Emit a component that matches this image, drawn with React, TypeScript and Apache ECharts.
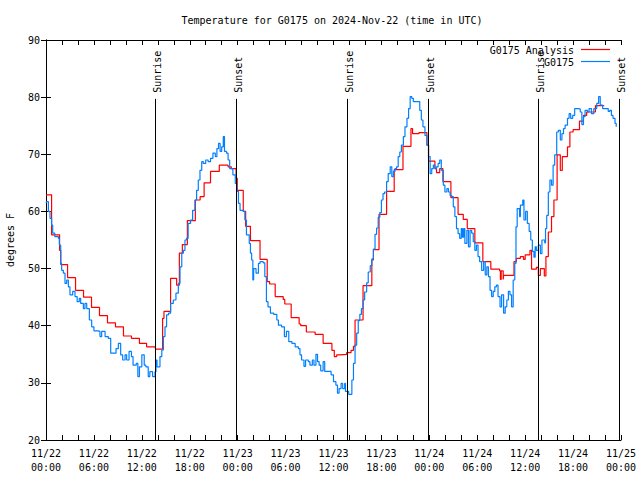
import React, { useEffect, useRef } from "react";
import * as echarts from "echarts";

// hours after 2024-11-22 00:00 UTC, temperature (°F)
const analysisSteps: [number, number][] = [
  [0, 62.9], [0.7, 55.9], [1.7, 53.2], [1.85, 50.7], [2.7, 48.4], [3.7, 46.2], [4.7, 45.0],
  [5.7, 43.2], [6.7, 41.75], [7.7, 40.5], [8.7, 39.8], [9.7, 38.2], [10.7, 37.8], [11.7, 36.9],
  [12.6, 36.3], [13.7, 35.9], [14.6, 41.3], [14.77, 42.5], [15.6, 48.3], [16.36, 47.1], [16.7, 52.7],
  [17.07, 54.2], [17.7, 58.4], [18.7, 62.0], [19.3, 62.6], [19.8, 65.0], [20.6, 67.0], [21.7, 68.1],
  [22.8, 67.8], [23.2, 67.5], [23.8, 65.8], [23.95, 63.7], [24.7, 60.0], [25.0, 57.4], [25.6, 54.9],
  [26.8, 51.6], [27.7, 47.7], [28.0, 47.3], [28.7, 45.1], [29.7, 44.6], [29.9, 43.8], [30.7, 41.4],
  [31.7, 40.3], [31.9, 40.0], [32.6, 38.9], [33.7, 38.5], [34.7, 36.9], [35.8, 35.7], [36.1, 34.6],
  [36.4, 34.9], [36.8, 35.0], [37.65, 35.3], [38.2, 35.7], [38.5, 36.4], [38.7, 41.0], [39.7, 47.0],
  [40.8, 51.5], [41.0, 53.3], [41.7, 59.5], [42.65, 63.5], [43.6, 67.3], [44.7, 71.4], [45.7, 74.5],
  [45.9, 73.6], [46.7, 73.8], [47.7, 71.6], [47.9, 68.8], [48.7, 67.5], [48.9, 66.8], [49.3, 67.5],
  [49.7, 65.2], [50.7, 62.4], [51.6, 59.5], [52.25, 58.6], [52.75, 57.0], [53.7, 54.5], [54.7, 51.2],
  [55.7, 49.9], [56.8, 49.6], [56.9, 48.1], [57.0, 49.6], [57.25, 48.1], [57.3, 48.8], [58.6, 51.2],
  [58.9, 51.8], [59.4, 52.1], [59.8, 51.6], [60.0, 52.4], [60.6, 53.2], [60.8, 49.9], [61.4, 50.2],
  [61.65, 48.8], [61.9, 50.0], [62.4, 48.7], [62.6, 52.1], [62.9, 56.4], [63.3, 59.1], [63.6, 62.0],
  [64.0, 69.9], [64.4, 67.2], [64.65, 69.6], [65.3, 71.3], [65.6, 73.9], [66.0, 74.3], [66.8, 75.8],
  [67.3, 76.8], [67.7, 77.4], [68.8, 78.5], [69.9, 78.5],
];

const observed: [number, number][] = [
  [0, 61.5], [0.08, 61.7], [0.3, 60.0], [0.5, 58.8], [0.7, 57.6], [0.84, 56.2], [1.1, 55.6],
  [1.55, 55.3], [1.67, 54.1], [1.84, 50.9], [1.96, 49.7], [2.17, 49.2], [2.38, 47.4], [2.59, 48.0],
  [2.8, 46.8], [3.0, 45.4], [3.34, 46.0], [3.63, 45.1], [3.9, 44.2], [4.17, 44.8], [4.34, 43.9],
  [4.68, 43.0], [4.88, 43.9], [5.1, 43.0], [5.43, 41.0], [5.72, 39.8], [6.0, 39.1], [6.55, 39.0],
  [6.76, 38.1], [6.97, 39.0], [7.4, 38.1], [7.8, 37.8], [8.1, 35.2], [8.43, 35.2], [8.77, 36.0],
  [9.06, 36.9], [9.35, 34.9], [9.6, 34.0], [9.9, 34.9], [10.1, 34.0], [10.4, 35.5], [10.7, 34.6],
  [10.9, 33.1], [11.3, 33.4], [11.5, 31.1], [11.7, 32.8], [12.0, 34.9], [12.3, 33.1], [12.5, 32.8],
  [12.8, 31.1], [13.0, 31.95], [13.35, 31.1], [13.65, 31.95], [13.77, 34.0], [13.9, 32.8],
  [14.27, 34.6], [14.5, 35.75], [14.7, 38.1], [14.9, 39.8], [15.1, 41.9], [15.35, 42.2],
  [15.6, 43.9], [15.94, 44.5], [16.27, 45.7], [16.57, 47.4], [16.78, 50.3], [17.0, 52.7],
  [17.2, 53.2], [17.4, 55.0], [17.6, 55.3], [17.8, 57.9], [18.1, 58.5], [18.36, 60.2],
  [18.65, 62.0], [18.86, 63.7], [19.07, 65.5], [19.28, 67.2], [19.5, 68.7], [19.7, 68.4],
  [20.0, 69.0], [20.3, 68.7], [20.6, 69.3], [20.9, 70.2], [21.2, 69.6], [21.4, 71.0], [21.6, 71.9],
  [21.8, 70.5], [22.0, 71.3], [22.2, 73.1], [22.35, 70.5], [22.6, 70.2], [22.8, 69.0], [23.0, 67.5],
  [23.4, 66.4], [23.7, 64.9], [23.9, 63.5], [24.1, 61.4], [24.3, 60.2], [24.7, 60.0], [24.9, 58.5],
  [25.1, 55.9], [25.45, 54.4], [25.6, 52.7], [25.75, 51.5], [25.9, 48.0], [26.0, 50.0], [26.3, 49.2],
  [26.6, 50.9], [26.8, 51.2], [27.2, 51.0], [27.4, 48.6], [27.6, 44.2], [27.8, 43.3], [28.1, 42.2],
  [28.5, 42.0], [28.9, 41.0], [29.1, 40.1], [29.5, 39.8], [29.85, 38.1], [30.1, 39.0], [30.4, 37.2],
  [30.8, 36.9], [31.2, 36.3], [31.6, 36.0], [31.8, 34.9], [32.0, 34.0], [32.3, 32.9], [32.5, 34.0],
  [32.85, 33.7], [33.05, 33.1], [33.35, 34.0], [33.55, 33.1], [33.8, 35.0], [34.0, 33.7],
  [34.2, 33.1], [34.4, 32.1], [34.7, 33.7], [34.9, 32.0], [35.35, 32.0], [35.7, 31.4], [36.0, 30.2],
  [36.3, 29.6], [36.5, 28.2], [36.7, 29.0], [36.95, 29.9], [37.15, 29.0], [37.4, 29.9], [37.5, 28.5],
  [37.9, 28.0], [38.15, 28.0], [38.3, 30.5], [38.5, 33.4], [38.7, 36.6], [38.9, 38.7], [39.1, 40.9],
  [39.3, 42.0], [39.5, 43.0], [39.7, 44.5], [39.9, 45.9], [40.15, 47.5], [40.35, 49.4], [40.6, 50.5],
  [40.8, 51.7], [41.0, 53.4], [41.2, 56.0], [41.4, 57.1], [41.6, 59.0], [41.8, 59.8], [42.0, 62.0],
  [42.2, 63.1], [42.4, 63.4], [42.65, 65.2], [42.85, 66.6], [43.1, 67.8], [43.3, 66.1], [43.5, 67.0],
  [43.7, 67.5], [43.9, 67.8], [44.1, 69.6], [44.3, 70.4], [44.5, 71.6], [44.75, 73.1], [44.95, 74.8],
  [45.2, 76.3], [45.4, 78.0], [45.6, 80.1], [45.8, 79.8], [46.0, 79.2], [46.6, 79.2], [46.8, 77.7],
  [47.0, 76.0], [47.2, 74.8], [47.45, 73.3], [47.7, 71.6], [47.9, 69.6], [48.1, 66.6], [48.3, 67.5],
  [48.5, 68.1], [48.7, 67.5], [48.9, 67.8], [49.1, 68.4], [49.3, 69.0], [49.5, 67.2], [49.75, 64.6],
  [49.95, 63.4], [50.2, 64.0], [50.4, 63.4], [50.6, 62.8], [50.8, 62.6], [51.0, 60.8], [51.2, 59.1],
  [51.4, 57.0], [51.6, 56.1], [51.8, 55.3], [52.0, 57.0], [52.15, 55.5], [52.3, 57.0], [52.45, 54.4],
  [52.7, 56.7], [52.9, 53.8], [53.1, 56.7], [53.3, 56.2], [53.5, 54.7], [53.7, 53.2], [53.9, 54.1],
  [54.1, 52.1], [54.3, 51.2], [54.55, 49.7], [54.8, 51.2], [55.0, 48.9], [55.2, 50.3], [55.4, 48.6],
  [55.6, 46.2], [55.8, 45.1], [56.0, 46.0], [56.2, 46.8], [56.4, 47.1], [56.6, 45.1], [56.85, 43.3],
  [57.05, 45.4], [57.3, 42.2], [57.5, 43.3], [57.7, 44.5], [57.9, 46.0], [58.1, 45.4], [58.3, 43.3],
  [58.5, 48.0], [58.7, 50.9], [58.85, 57.3], [59.0, 60.5], [59.3, 59.1], [59.4, 61.1], [59.7, 62.0],
  [59.85, 58.5], [60.06, 60.0], [60.27, 57.9], [60.5, 56.5], [60.7, 55.0], [60.9, 53.0], [61.1, 52.0],
  [61.25, 53.8], [61.4, 53.2], [61.65, 54.1], [61.9, 52.6], [62.1, 55.0], [62.3, 55.0], [62.45, 54.5],
  [62.55, 57.0], [62.7, 59.3], [62.9, 63.4], [63.1, 65.5], [63.3, 64.6], [63.5, 68.1], [63.7, 69.9],
  [63.95, 73.9], [64.16, 74.2], [64.4, 72.5], [64.6, 73.6], [64.8, 74.5], [65.0, 75.1], [65.3, 76.3],
  [65.5, 77.1], [65.7, 76.3], [65.95, 76.8], [66.2, 78.0], [66.7, 77.9], [66.9, 77.4], [67.1, 75.2],
  [67.3, 76.6], [67.5, 77.7], [67.8, 77.4], [68.0, 78.0], [68.3, 77.1], [68.6, 78.0], [68.96, 78.9],
  [69.2, 80.1], [69.4, 78.6], [69.7, 78.0], [70.1, 78.0], [70.4, 77.5], [70.6, 77.7], [70.8, 76.8],
  [71.0, 76.3], [71.25, 75.4], [71.4, 74.8],
];

const sunHours = [13.69, 23.83, 37.73, 47.87, 61.65, 71.8];
const sunNames = ["Sunrise", "Sunset", "Sunrise", "Sunset", "Sunrise", "Sunset"];
const sunLineTop = 79.7;

const xTickLabels = [
  "11/22\n00:00", "11/22\n06:00", "11/22\n12:00", "11/22\n18:00",
  "11/23\n00:00", "11/23\n06:00", "11/23\n12:00", "11/23\n18:00",
  "11/24\n00:00", "11/24\n06:00", "11/24\n12:00", "11/24\n18:00",
  "11/25\n00:00",
];
const yMin = 20;
const yMax = 90;
const yStep = 10;

const FONT = "DejaVu Sans Mono";

export default function App() {
  const ref = useRef<HTMLDivElement>(null);
  useEffect(() => {
    if (!ref.current) return;
    const chart = echarts.init(ref.current, null, { renderer: "svg" });
    const axisBase = {
      type: "value" as const,
      min: 0,
      max: 72,
      interval: 2,
      axisLine: { show: true, lineStyle: { color: "#000", width: 1 } },
      axisTick: { show: true, inside: true, length: 5, lineStyle: { color: "#000" } },
      splitLine: { show: false },
    };
    const yBase = {
      type: "value" as const,
      min: yMin,
      max: yMax,
      interval: yStep,
      axisLine: { show: true, lineStyle: { color: "#000", width: 1 } },
      axisTick: { show: true, inside: true, length: 5, lineStyle: { color: "#000" } },
      splitLine: { show: false },
    };
    chart.setOption({
      animation: false,
      backgroundColor: "#fff",
      grid: { left: 46, right: 19, top: 40, bottom: 40, containLabel: false, outerBoundsMode: "none" },
      xAxis: [
        {
          ...axisBase,
          position: "bottom",
          axisLabel: {
            color: "#000",
            fontFamily: FONT,
            fontSize: 10,
            lineHeight: 14,
            margin: 6,
            showMinLabel: true,
            showMaxLabel: true,
            formatter: (v: number) => {
              const r = Math.round(v);
              return r % 6 === 0 ? xTickLabels[r / 6] : "";
            },
          },
        },
        { ...axisBase, position: "top", axisLabel: { show: false } },
      ],
      yAxis: [
        {
          ...yBase,
          position: "left",
          name: "degrees F",
          nameLocation: "middle",
          nameRotate: 90,
          nameGap: 31,
          nameTextStyle: { color: "#000", fontFamily: FONT, fontSize: 10 },
          axisLabel: { color: "#000", fontFamily: FONT, fontSize: 10, margin: 6 },
        },
        { ...yBase, position: "right", axisLabel: { show: false } },
      ],
      graphic: [
        {
          type: "text",
          x: 332,
          y: 20,
          style: {
            text: "Temperature for G0175 on 2024-Nov-22 (time in UTC)",
            fill: "#000",
            font: `10px "${FONT}"`,
            align: "center",
            verticalAlign: "middle",
          },
        },
        {
          type: "text",
          x: 574,
          y: 50,
          style: { text: "G0175 Analysis", fill: "#000", font: `10px "${FONT}"`, align: "right", verticalAlign: "middle" },
        },
        { type: "line", shape: { x1: 581, y1: 49.5, x2: 610, y2: 49.5 }, style: { stroke: "#ff0000", lineWidth: 1.2 } },
        {
          type: "text",
          x: 574,
          y: 62,
          style: { text: "G0175", fill: "#000", font: `10px "${FONT}"`, align: "right", verticalAlign: "middle" },
        },
        { type: "line", shape: { x1: 581, y1: 61.5, x2: 610, y2: 61.5 }, style: { stroke: "#0080ff", lineWidth: 1.2 } },
      ],
      series: [
        {
          name: "G0175 Analysis",
          type: "line",
          step: "end",
          data: analysisSteps,
          showSymbol: false,
          symbol: "none",
          lineStyle: { color: "#ff0000", width: 1.2 },
          itemStyle: { color: "#ff0000" },
          z: 2,
        },
        {
          name: "G0175",
          type: "line",
          step: "end",
          data: observed,
          showSymbol: false,
          symbol: "none",
          lineStyle: { color: "#0080ff", width: 1.2 },
          itemStyle: { color: "#0080ff" },
          z: 3,
        },
        {
          type: "custom",
          data: sunHours.map((h) => [h]),
          encode: { x: 0 },
          z: 4,
          renderItem: (params: any, api: any) => {
            const h = api.value(0);
            const top = api.coord([h, sunLineTop]);
            const bot = api.coord([h, yMin]);
            const x = Math.round(top[0]) + 0.5;
            return {
              type: "group",
              children: [
                {
                  type: "line",
                  shape: { x1: x, y1: top[1], x2: x, y2: bot[1] },
                  style: { stroke: "#000", lineWidth: 1 },
                },
                {
                  type: "text",
                  x: x + 1.5,
                  y: top[1] - 6,
                  rotation: Math.PI / 2,
                  style: {
                    text: sunNames[params.dataIndex],
                    fill: "#000",
                    font: `10px "${FONT}"`,
                    align: "left",
                    verticalAlign: "middle",
                  },
                },
              ],
            };
          },
        },
      ],
    });
    return () => chart.dispose();
  }, []);
  return <div ref={ref} style={{ width: 640, height: 480, position: "absolute", left: 0, top: 0 }} />;
}
